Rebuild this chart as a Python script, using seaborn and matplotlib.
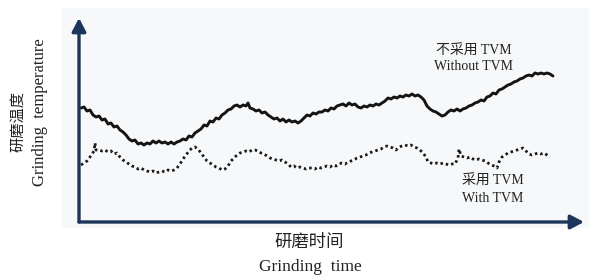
import numpy as np
import pandas as pd
import matplotlib
matplotlib.use("Agg")
import matplotlib.pyplot as plt
import seaborn as sns
from matplotlib.patches import Rectangle

# ---- data (arbitrary units) ----
time_without = [2,5,8,11,14,17,20,23,26,29,32,35,38,41,44,47,50,53,56,59,62,65,68,71,74,77,80,83,86,89,92,95,98,101,104,107,110,113,116,119,122,125,128,131,134,137,140,143,146,149,152,155,158,161,164,167,169,171,174,177,180,183,186,189,192,195,198,201,204,207,210,213,216,219,222,225,228,231,234,237,240,243,246,249,252,255,258,261,264,267,270,273,276,279,282,285,288,291,294,297,300,303,306,309,312,315,318,321,324,327,330,333,336,339,342,345,348,351,354,357,360,363,366,369,372,375,378,381,384,387,390,393,396,399,402,405,408,411,414,417,420,423,426,429,432,435,438,441,444,447,450,453,456,459,462,465,468,471,474]
temp_without = [114,115,111,112,107,105,106,102,103,98,99,95,96,92,90,87,83,81,82,78,79,77,79,78,81,79,81,79,80,78,80,78,80,81,83,82,86,85,89,91,93,97,96,101,100,104,103,107,109,112,113,116,117,115,117,116,119,114,113,111,112,109,110,107,105,103,104,101,103,100,102,100,101,99,101,104,107,106,109,108,110,110,112,111,114,113,116,117,118,116,119,117,118,115,114,116,115,117,116,118,117,119,121,124,123,125,124,126,125,127,126,128,126,127,125,122,116,113,111,110,108,106,107,110,112,111,113,111,113,114,116,117,119,120,122,121,125,126,129,128,132,133,135,137,138,140,141,143,144,146,147,146,149,148,149,148,149,148,146]

time_with = [2,5,8,11,13,15,16,17,20,23,26,29,32,35,38,41,44,47,50,53,56,59,62,65,68,71,74,77,80,83,86,89,92,95,98,101,104,107,110,113,116,119,122,125,128,131,134,137,140,143,146,149,152,155,158,161,164,167,170,173,176,179,182,185,188,191,194,197,200,203,206,209,212,215,218,221,224,227,230,233,236,239,242,245,248,251,254,257,260,263,266,269,272,275,278,281,284,287,290,293,296,299,302,305,308,311,314,317,320,323,326,329,332,335,338,341,344,347,349,352,355,358,361,364,367,370,373,376,379,380,382,385,388,391,394,397,400,403,406,409,412,415,418,420,423,426,429,432,435,438,441,444,447,450,453,456,459,462,465,468,471]
temp_with = [57,59,61,65,68,71,79,72,72,71,72,70,71,68,69,65,62,60,58,56,55,53,54,52,51,50,51,49,50,51,50,52,51,52,54,58,63,67,71,74,75,73,69,65,61,59,57,55,54,52,53,56,61,64,67,69,70,71,70,72,72,71,69,68,66,64,63,62,61,62,60,58,55,56,54,55,54,53,54,54,53,55,54,55,56,55,57,56,58,59,58,60,61,62,64,65,66,67,69,70,71,72,73,75,76,75,74,72,75,76,77,76,77,75,74,72,69,65,60,59,58,59,58,59,58,57,58,58,64,73,66,65,64,65,63,62,63,62,61,59,57,56,54,60,65,67,69,70,71,72,73,74,71,68,67,68,69,68,69,67,65]

label_without = ["不采用 TVM", "Without TVM"]
label_with = ["采用 TVM", "With TVM"]
ylabel_lines = ["研磨温度", "Grinding  temperature"]
xlabel_lines = ["研磨时间", "Grinding  time"]

df = pd.concat([
    pd.DataFrame({"time": time_without, "temp": temp_without, "case": "without"}),
    pd.DataFrame({"time": time_with, "temp": temp_with, "case": "with"}),
], ignore_index=True)

sns.set_style("white")
plt.rcParams["font.family"] = ["Liberation Serif", "Noto Sans CJK SC"]

W, H = 589, 279
fig = plt.figure(figsize=(W / 100, H / 100), dpi=100)
fig.patch.set_facecolor("white")
bg = Rectangle((62 / W, 1 - 228 / H), (W - 62) / W, 220 / H,
               transform=fig.transFigure, facecolor="#f7f8f9",
               edgecolor="none", zorder=-10)
fig.add_artist(bg)

ax = fig.add_axes([79 / W, 57 / H, 505 / W, 204 / H])
ax.set_facecolor("none")
ax.set_zorder(5)

sns.lineplot(data=df[df.case == "without"], x="time", y="temp", ax=ax,
             color="#141414", lw=2.1, estimator=None, sort=False)
sns.lineplot(data=df[df.case == "with"], x="time", y="temp", ax=ax,
             color="#1a1a1a", lw=2.0, estimator=None, sort=False,
             linestyle=(0, (0.9, 1.1)))

ax.set_xlim(0, 505)
ax.set_ylim(0, 204)
ax.set_xticks([])
ax.set_yticks([])
ax.set_xlabel("")
ax.set_ylabel("")
for s in ax.spines.values():
    s.set_visible(False)

navy = "#1d355a"
arrow_kw = dict(arrowstyle="-|>,head_length=0.8,head_width=0.42", lw=2.4,
                color=navy, shrinkA=0, shrinkB=0)
ax.annotate("", xy=(1, 0), xytext=(0, 0), xycoords="axes fraction",
            arrowprops=arrow_kw, annotation_clip=False)
ax.annotate("", xy=(0, 1), xytext=(0, 0), xycoords="axes fraction",
            arrowprops=arrow_kw, annotation_clip=False)

tc = "#222222"
fig.text(474 / W, 1 - 51 / H, label_without[0], ha="center", va="center", fontsize=10, color=tc)
fig.text(474 / W, 1 - 66 / H, label_without[1], ha="center", va="center", fontsize=10, color=tc)
fig.text(493 / W, 1 - 181 / H, label_with[0], ha="center", va="center", fontsize=10, color=tc)
fig.text(493 / W, 1 - 198 / H, label_with[1], ha="center", va="center", fontsize=10, color=tc)

fig.text(18 / W, 1 - 122 / H, ylabel_lines[0], ha="center", va="center", rotation=90, fontsize=11, color=tc)
fig.text(40 / W, 1 - 112 / H, ylabel_lines[1], ha="center", va="center", rotation=90, fontsize=12, color=tc)
fig.text(309 / W, 1 - 243 / H, xlabel_lines[0], ha="center", va="center", fontsize=12.5, color=tc)
fig.text(310 / W, 1 - 267 / H, xlabel_lines[1], ha="center", va="center", fontsize=12.5, color=tc)

fig.savefig("out.png", dpi=100)
